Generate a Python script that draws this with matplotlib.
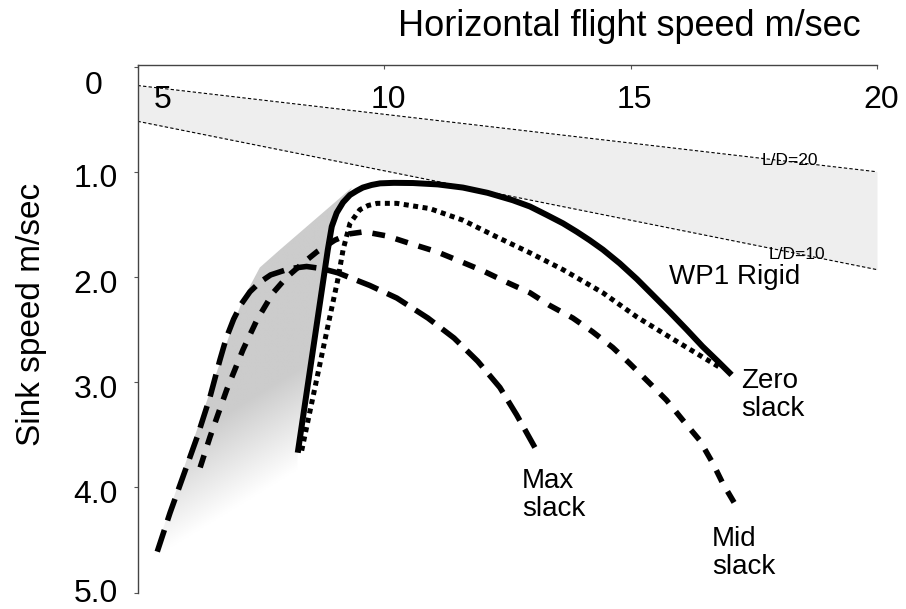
import numpy as np
import matplotlib
matplotlib.use("Agg")
import matplotlib.pyplot as plt
from matplotlib.patches import Polygon
from matplotlib.transforms import ScaledTranslation, blended_transform_factory

plt.rcParams["font.family"] = ["Liberation Sans", "DejaVu Sans"]

# ---------------------------------------------------------------------------
# Dados
# ---------------------------------------------------------------------------
XTICKS = [5, 10, 15, 20]
XTICK_LABELS = ["5", "10", "15", "20"]
YTICKS = [0, 1, 2, 3, 4, 5]
YTICK_LABELS = ["0", "1.0", "2.0", "3.0", "4.0", "5.0"]

# retas L/D (velocidade nas pontas do eixo)
LD_X = [5, 20]
LD20_Y = [0.18, 1.00]
LD10_Y = [0.52, 1.93]

# WP1 Rigid (linha cheia)
RIGID_X = [8.25, 8.86, 8.94, 9.04, 9.17, 9.31, 9.45, 9.57, 9.75, 9.92, 10.2,
           10.59, 11.09, 11.60, 12.10, 12.61, 12.96, 13.30, 13.63, 13.91,
           14.17, 14.44, 14.78, 15.13, 15.45, 15.79, 16.14, 16.46, 16.77, 17.05]
RIGID_Y = [3.67, 1.74, 1.52, 1.39, 1.29, 1.22, 1.18, 1.15, 1.125, 1.11, 1.105,
           1.107, 1.12, 1.15, 1.20, 1.27, 1.33, 1.41, 1.49, 1.57,
           1.65, 1.74, 1.87, 2.02, 2.17, 2.33, 2.50, 2.66, 2.80, 2.93]

# Zero slack (pontilhada)
ZERO_X = [8.33, 8.90, 9.06, 9.17, 9.31, 9.51, 9.68, 9.86, 10.26, 10.93, 11.60,
          12.29, 12.96, 13.63, 14.44, 15.13, 15.79, 16.46, 16.85]
ZERO_Y = [3.65, 2.38, 2.03, 1.74, 1.49, 1.36, 1.32, 1.30, 1.30, 1.35, 1.46,
          1.62, 1.77, 1.93, 2.15, 2.38, 2.57, 2.76, 2.87]

# Mid slack (tracejado curto)
MID_X = [6.27, 6.47, 6.81, 7.14, 7.42, 7.75, 8.03, 8.35, 8.64, 9.0, 9.3, 9.6,
         10.06, 10.52, 11.07, 11.54, 12.00, 12.49, 12.96, 13.36, 13.83, 14.23,
         14.64, 14.98, 15.39, 15.73, 16.06, 16.40, 16.67, 16.87, 17.11]
MID_Y = [3.81, 3.52, 3.07, 2.69, 2.41, 2.15, 2.00, 1.87, 1.76, 1.65, 1.59, 1.57,
         1.61, 1.68, 1.76, 1.85, 1.94, 2.05, 2.15, 2.27, 2.39, 2.52,
         2.67, 2.82, 3.01, 3.17, 3.36, 3.55, 3.77, 3.96, 4.15]

# Max slack (tracejado longo)
MAX_X = [5.40, 5.66, 5.92, 6.21, 6.47, 6.67, 6.80, 6.95, 7.10, 7.28, 7.48,
         7.70, 8.09, 8.43, 8.74, 9.06, 9.71, 10.26, 10.89, 11.42, 11.90,
         12.35, 12.69, 13.06]
MAX_Y = [4.61, 4.24, 3.90, 3.52, 3.14, 2.79, 2.58, 2.40, 2.26, 2.14, 2.05,
         1.98, 1.92, 1.90, 1.92, 1.96, 2.08, 2.20, 2.39, 2.58, 2.80,
         3.05, 3.31, 3.62]

# região cinza (degradê) à esquerda das curvas
GRAY_X = [9.35, 9.10, 8.86, 8.60, 8.25, 8.22, 5.11, 6.88, 7.13, 7.48, 7.89]
GRAY_Y = [1.15, 1.36, 1.74, 2.69, 3.69, 4.03, 4.95, 2.53, 2.22, 1.91, 1.74]

# ---------------------------------------------------------------------------
fig = plt.figure(figsize=(9.06, 6.09), dpi=100)
ax = fig.add_axes([0.1518, 0.0268, 0.8162, 0.8665])
ax.set_xlim(5, 20)
ax.set_ylim(5.0, -0.015)

# faixa entre L/D=20 e L/D=10
ax.fill_between(LD_X, LD20_Y, LD10_Y, color="#eeeeee", lw=0, zorder=1)
ax.plot(LD_X, LD20_Y, color="black", lw=0.8, ls=(0, (3, 2)), zorder=2)
ax.plot(LD_X, LD10_Y, color="black", lw=0.8, ls=(0, (3, 2)), zorder=2)

# degradê cinza recortado pelo polígono
poly = Polygon(np.column_stack([GRAY_X, GRAY_Y]), closed=True,
               facecolor="none", edgecolor="none")
ax.add_patch(poly)
x0, x1, y0, y1 = 5.0, 9.6, 1.0, 5.0
gx, gy = np.meshgrid(np.linspace(x0, x1, 300), np.linspace(y0, y1, 300))
d = 25.65 * (gx - 5) + 89.4 * gy
t = np.clip((d - 340) / 85, 0, 1)
level = 0.80 + 0.20 * t
img = np.dstack([level, level, level])
im = ax.imshow(img, extent=(x0, x1, y0, y1), origin="lower",
               aspect="auto", interpolation="bilinear", zorder=1.5)
im.set_clip_path(poly)

# curvas
ax.plot(RIGID_X, RIGID_Y, color="black", lw=4.3, solid_capstyle="butt",
        solid_joinstyle="round", zorder=5)
ax.plot(ZERO_X, ZERO_Y, color="black", lw=3.6, ls=(0, (1, 0.9)),
        dash_capstyle="butt", zorder=4)
ax.plot(MID_X, MID_Y, color="black", lw=4.0, ls=(0, (2.3, 2.0)),
        dash_capstyle="butt", zorder=4)
ax.plot(MAX_X, MAX_Y, color="black", lw=4.0, ls=(0, (4.1, 1.8)),
        dash_capstyle="butt", zorder=4)

# rótulos
ax.text(18.23, 0.89, "L/D=20", fontsize=12.5, ha="center", va="center", zorder=6)
ax.text(18.37, 1.79, "L/D=10", fontsize=12.5, ha="center", va="center", zorder=6)
ax.text(15.79, 2.00, "WP1 Rigid", fontsize=20, ha="left", va="center", zorder=6)
ax.text(17.25, 3.12, "Zero\nslack", fontsize=20, ha="left", va="center",
        linespacing=1.1, zorder=6)
ax.text(12.80, 4.07, "Max\nslack", fontsize=20, ha="left", va="center",
        linespacing=1.1, zorder=6)
ax.text(16.65, 4.62, "Mid\nslack", fontsize=20, ha="left", va="center",
        linespacing=1.1, zorder=6)

# eixos
for side in ("right", "bottom"):
    ax.spines[side].set_visible(False)
for side in ("left", "top"):
    ax.spines[side].set_color("#444444")
    ax.spines[side].set_linewidth(1.0)

ax.set_yticks(YTICKS)
ax.set_yticklabels(YTICK_LABELS, fontsize=23)
ax.tick_params(axis="y", length=3, width=0.8, color="#555555", pad=11)
for lab in ax.get_yticklabels():
    txt = lab.get_text()
    if txt == "0":
        dx, dy = -16, -16
    elif txt == "5.0":
        dx, dy = 0, 2
    else:
        dx, dy = 0, -4
    lab.set_transform(lab.get_transform() +
                      ScaledTranslation(dx / 100, dy / 100, fig.dpi_scale_trans))

ax.xaxis.tick_top()
ax.set_xticks(XTICKS)
ax.tick_params(axis="x", direction="in", length=3, width=0.8,
               color="#555555", labeltop=False)
trans = blended_transform_factory(ax.transData, ax.transAxes)
for v, lab in zip(XTICKS, XTICK_LABELS):
    shift = 18 if v == 5 else 3
    ax.annotate(lab, xy=(v, 0.9337), xycoords=trans, xytext=(shift, 0),
                textcoords="offset points", ha="center", va="center",
                fontsize=23)

fig.text(629 / 906, 1 - 27 / 609, "Horizontal flight speed m/sec",
         fontsize=26, ha="center", va="center")
fig.text(32 / 906, 1 - 314 / 609, "Sink speed m/sec", fontsize=24,
         rotation=90, ha="center", va="center")

fig.savefig("out.png", dpi=100)
